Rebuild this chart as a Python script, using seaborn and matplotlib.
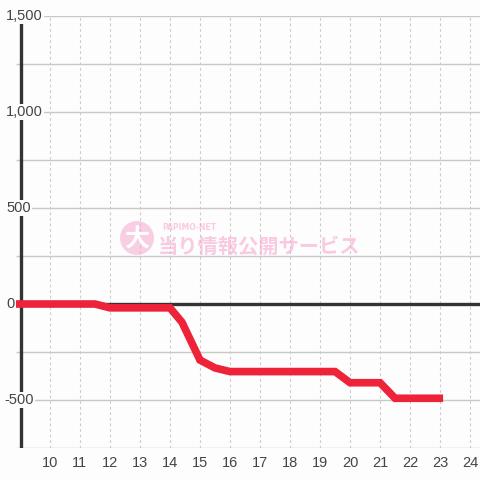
import matplotlib
matplotlib.use("Agg")
import matplotlib.pyplot as plt
import seaborn as sns
import pandas as pd
from matplotlib.patches import Circle

# data (hour vs. cumulative balance)
hours = [8.87, 11.5, 12.0, 14.0, 14.4, 15.0, 15.5, 16.0, 19.5, 20.0, 21.0, 21.5, 23.1]
balance = [0, 0, -20, -20, -95, -292, -333, -352, -352, -410, -410, -491, -491]

x_ticks = list(range(10, 25))
y_ticks = [1500, 1000, 500, 0, -500]
y_labels = ["1,500", "1,000", "500", "0", "-500"]
y_minor = [1250, 750, 250, -250, -750]

sns.set_style("white")
plt.rcParams['font.family'] = ['Liberation Sans', 'DejaVu Sans']

df = pd.DataFrame({"hour": hours, "balance": balance})

fig = plt.figure(figsize=(4.8, 4.8), dpi=100, facecolor="#fcfdfc")
ax = fig.add_axes([16 / 480, 32 / 480, 464 / 480, 432 / 480])
ax.set_facecolor("#fcfdfc")

ax.set_xlim(8.87, 24.33)
ax.set_ylim(-750, 1500)

# grid
for v in y_ticks + y_minor:
    if v != 0:
        ax.axhline(v, color="#c8c8c8", lw=1.0, zorder=1)
for h in x_ticks:
    ax.axvline(h, color="#cccccc", lw=0.8, ls=(0, (2.5, 2.5)), zorder=1)

# axis lines
ax.axvline(9.03, color="#333333", lw=2.4, zorder=3)
ax.axhline(0, color="#333333", lw=2.4, zorder=3)

sns.lineplot(data=df, x="hour", y="balance", ax=ax, color="#ee2238",
             linewidth=5.5, zorder=4)
for line in ax.lines:
    line.set_solid_capstyle("butt")
    line.set_solid_joinstyle("miter")

for s in ax.spines.values():
    s.set_visible(False)

ax.set_xlabel("")
ax.set_ylabel("")
ax.set_xticks(x_ticks)
ax.set_xticklabels([str(t) for t in x_ticks])
ax.tick_params(axis="x", length=0, pad=6, labelsize=10.5, labelcolor="#444444")
ax.set_yticks([])

# y labels sit on top of the axis line, under the data line
trans = matplotlib.transforms.blended_transform_factory(fig.transFigure, ax.transData)
for v, lab in zip(y_ticks, y_labels):
    xx = 4 / 480 if lab.startswith("-") else 6 / 480
    ax.text(xx, v, lab, transform=trans, ha="left", va="center", fontsize=10.5,
            color="#444444", zorder=3.5, clip_on=False,
            bbox=dict(boxstyle="square,pad=0.1", fc="#fcfdfc", ec="none"))

# watermark
pink = "#f7a8cf"
fig.patches.append(Circle((137 / 480, 1 - 238 / 480), 17 / 480, transform=fig.transFigure,
                          fc=pink, ec="none", alpha=0.55, zorder=2))
fig.text(137 / 480, 1 - 239 / 480, "大", ha="center", va="center", fontsize=18,
         color="white", fontweight="bold", family=["Noto Sans CJK JP", "DejaVu Sans"], zorder=3)
fig.text(162 / 480, 1 - 227 / 480, "PAPIMO-NET", ha="left", va="center", fontsize=5.5,
         color=pink, alpha=0.6, fontweight="bold", family=["DejaVu Sans"])
fig.text(158 / 480, 1 - 246 / 480, "当り情報公開サービス", ha="left", va="center", fontsize=14.6,
         color=pink, alpha=0.6, fontweight="bold", family=["Noto Sans CJK JP", "DejaVu Sans"])

fig.savefig("out.png", dpi=100, facecolor=fig.get_facecolor())
